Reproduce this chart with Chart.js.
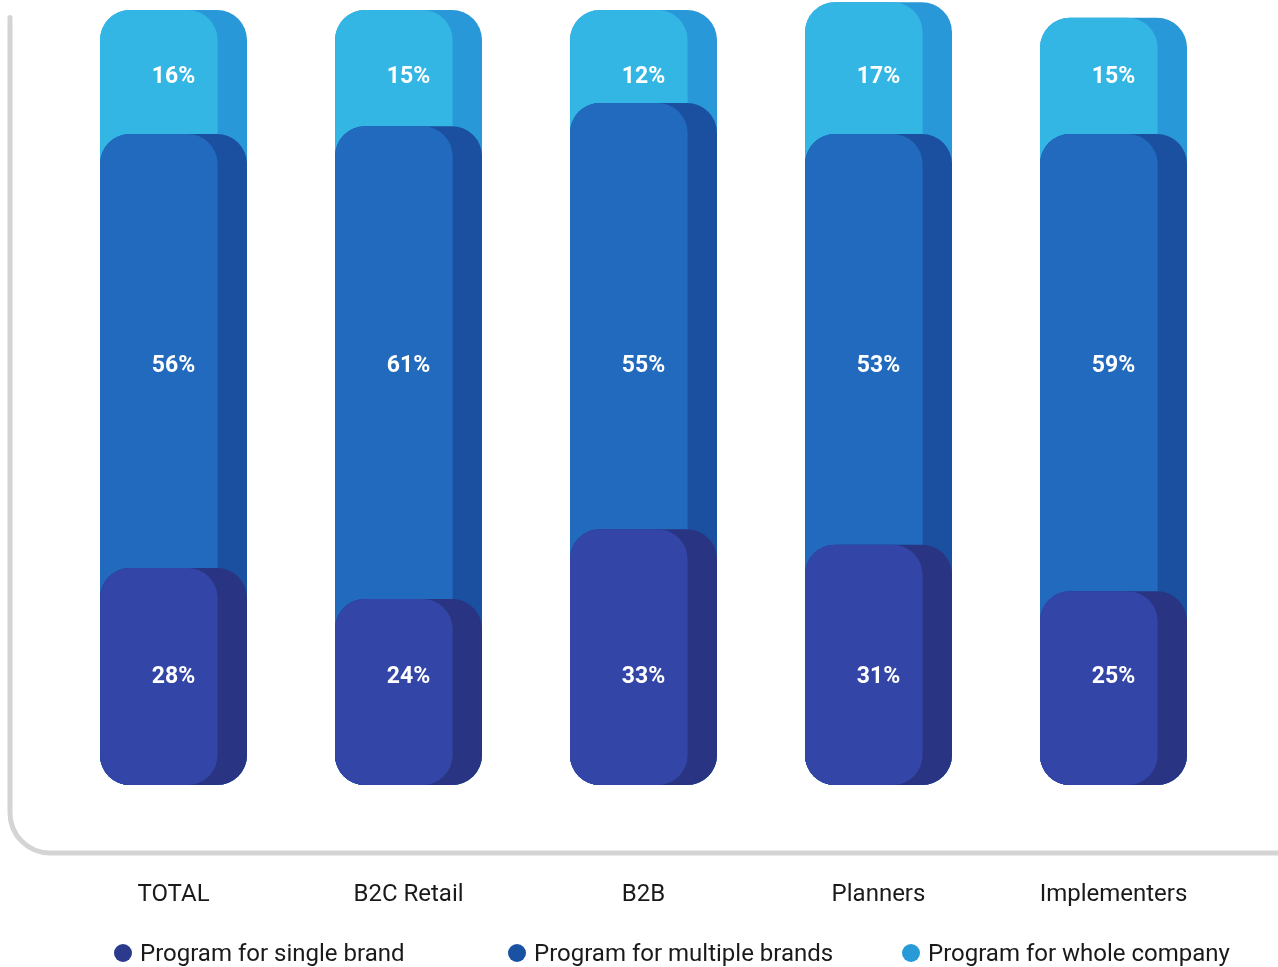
<!DOCTYPE html>
<html>
<head>
<meta charset="utf-8">
<title>Program scope by segment</title>
<script src="https://cdn.jsdelivr.net/npm/chart.js@4.4.1/dist/chart.umd.min.js"></script>
<style>
  body { margin: 0; background: #fff; font-family: Roboto, "Noto Sans", sans-serif; overflow: hidden; }
  #wrap { position: relative; width: 1278px; height: 967px; }
  #legend { position: absolute; left: 114px; top: 939px; display: flex; }
  .item { width: 394px; display: flex; align-items: center; font-size: 24px; line-height: 28px; color: #1a1a1a; }
  .dot { width: 18px; height: 18px; border-radius: 50%; margin-right: 8px; flex: none; }
</style>
</head>
<body>
<div id="wrap">
  <canvas id="grafico"></canvas>
  <div id="legend"></div>
</div>
<script>
// dados (%)
const categorias = ["TOTAL", "B2C Retail", "B2B", "Planners", "Implementers"];
const singleBrand = [28, 24, 33, 31, 25];
const multipleBrands = [56, 61, 55, 53, 59];
const wholeCompany = [16, 15, 12, 17, 15];
const nomesSeries = ["Program for single brand", "Program for multiple brands", "Program for whole company"];

// cores: face clara e faixa lateral escura de cada serie
const faces = ["#3345a6", "#216abd", "#33b6e3"];
const sombras = ["#293483", "#1b50a0", "#2898d8"];
const pontos = ["#2c3a8e", "#1a52a3", "#299ad8"];
// altura fixa (em %) onde cada rotulo fica
const rotuloEm = [13.9, 54.0, 91.3];

// cada serie vai do zero ate a soma acumulada; as de baixo sao desenhadas por cima
const ate1 = singleBrand;
const ate2 = singleBrand.map((v, i) => v + multipleBrands[i]);
const ate3 = ate2.map((v, i) => v + wholeCompany[i]);
const valores = [singleBrand, multipleBrands, wholeCompany];

const datasets = [ate1, ate2, ate3].map((fim, s) => ({
  label: nomesSeries[s],
  data: fim.map(v => [0, v]),
  backgroundColor: sombras[s],
  borderRadius: 30,
  borderSkipped: false,
  inflateAmount: 0,
  clip: false,
  barPercentage: 0.6255,
  categoryPercentage: 1,
}));

// moldura cinza em L com canto arredondado
const moldura = {
  id: "moldura",
  beforeDatasetsDraw(chart) {
    const ctx = chart.ctx;
    const yb = chart.chartArea.bottom + 68;
    const xl = 10, r = 40;
    ctx.save();
    ctx.strokeStyle = "#d4d4d4";
    ctx.lineWidth = 5;
    ctx.lineCap = "round";
    ctx.beginPath();
    ctx.moveTo(xl, 17.5);
    ctx.lineTo(xl, yb - r);
    ctx.arcTo(xl, yb, xl + r, yb, r);
    ctx.lineTo(chart.width + 5, yb);
    ctx.stroke();
    ctx.restore();
  },
};

// face clara sobre a barra escura, deixando a faixa lateral a direita
const faceBarra = {
  id: "faceBarra",
  afterDatasetDraw(chart, args) {
    const ctx = chart.ctx;
    ctx.save();
    ctx.fillStyle = faces[args.index];
    args.meta.data.forEach(bar => {
      const { x, y, base, width } = bar.getProps(["x", "y", "base", "width"], true);
      const top = Math.min(y, base);
      ctx.beginPath();
      ctx.roundRect(x - width / 2, top, width * 0.8, Math.abs(base - y), 30);
      ctx.fill();
    });
    ctx.restore();
  },
  afterDatasetsDraw(chart) {
    const ctx = chart.ctx;
    const yScale = chart.scales.y;
    ctx.save();
    ctx.fillStyle = "#ffffff";
    ctx.font = "bold 23px Roboto";
    ctx.textAlign = "center";
    ctx.textBaseline = "middle";
    valores.forEach((serie, s) => {
      const meta = chart.getDatasetMeta(s);
      serie.forEach((v, i) => {
        ctx.fillText(v + "%", meta.data[i].x, yScale.getPixelForValue(rotuloEm[s]));
      });
    });
    ctx.restore();
  },
};

const ctx = document.getElementById("grafico").getContext("2d");
const chart = new Chart(ctx, {
  type: "bar",
  data: { labels: categorias, datasets: datasets },
  options: {
    responsive: true,
    maintainAspectRatio: false,
    animation: false,
    layout: { padding: { top: 10, left: 56, right: 47, bottom: 57 } },
    plugins: { legend: { display: false }, tooltip: { enabled: false } },
    scales: {
      x: {
        stacked: true,
        grid: { display: false, drawTicks: false },
        border: { display: false },
        ticks: { color: "#1a1a1a", padding: 96, font: { family: "Roboto", size: 24 } },
        afterFit(scale) {
          // rotulos afastados para baixo, sem roubar espaco lateral
          scale.height = 125;
          scale.paddingLeft = 0;
          scale.paddingRight = 0;
        },
      },
      y: { display: false, min: 0, max: 100 },
    },
  },
  plugins: [moldura, faceBarra],
});

// legenda em html
const legenda = document.getElementById("legend");
nomesSeries.forEach((nome, s) => {
  const item = document.createElement("div");
  item.className = "item";
  item.innerHTML = `<span class="dot" style="background:${pontos[s]}"></span><span>${nome}</span>`;
  legenda.appendChild(item);
});
</script>
</body>
</html>
